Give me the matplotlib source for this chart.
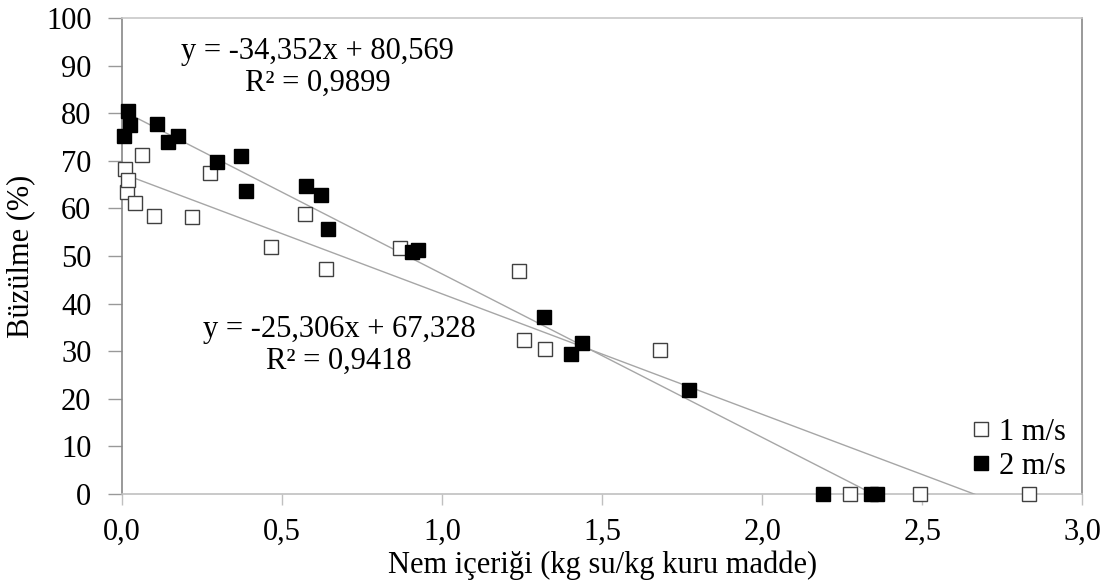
import numpy as np
import matplotlib.pyplot as plt

plt.rcParams['font.family'] = ['Liberation Serif', 'DejaVu Serif']

# 1 m/s  (white squares)
x1 = [0.010, 0.017, 0.020, 0.042, 0.063, 0.100, 0.220, 0.275, 0.466, 0.572,
      0.638, 0.869, 1.241, 1.256, 1.321, 1.681, 2.274, 2.494, 2.835]
y1 = [68.2, 63.4, 66.0, 61.2, 71.2, 58.3, 58.1, 67.4, 51.9, 58.8,
      47.3, 51.7, 46.9, 32.3, 30.5, 30.3, 0.0, 0.0, 0.0]

# 2 m/s  (black squares)
x2 = [0.007, 0.020, 0.025, 0.110, 0.145, 0.176, 0.297, 0.372, 0.388, 0.574,
      0.621, 0.645, 0.905, 0.926, 1.318, 1.402, 1.437, 1.771, 2.190, 2.340, 2.360]
y2 = [75.2, 80.5, 77.5, 77.8, 74.0, 75.1, 69.7, 70.9, 63.7, 64.7,
      62.9, 55.7, 50.8, 51.3, 37.2, 29.3, 31.8, 21.8, 0.0, 0.0, 0.0]

# trendline coefficients as printed on the chart
slope = {'1 m/s': -25.306, '2 m/s': -34.352}
intercept = {'1 m/s': 67.328, '2 m/s': 80.569}
r2 = {'1 m/s': '0,9418', '2 m/s': '0,9899'}

fs = 22

fig = plt.figure(figsize=(11.14, 5.81), dpi=100)
ax = fig.add_axes([0.1095, 0.150, 0.862, 0.819])

# trendlines over the data range
for lab, xs in [('1 m/s', x1), ('2 m/s', x2)]:
    xx = np.linspace(min(xs), max(xs), 200)
    ax.plot(xx, slope[lab] * xx + intercept[lab], color='#a6a6a6', lw=1.0, zorder=3)

ax.plot(x1, y1, 's', ms=10, mfc='white', mec='#404040', mew=1.0,
        label='1 m/s', zorder=4, clip_on=False)
ax.plot(x2, y2, 's', ms=10, mfc='black', mec='black', mew=1.0,
        label='2 m/s', zorder=5, clip_on=False)

ax.set_xlim(0, 3.0)
ax.set_ylim(0, 100)
ax.set_xticks(np.arange(0, 3.01, 0.5))
ax.set_xticklabels([f'{v:.1f}'.replace('.', ',') for v in np.arange(0, 3.01, 0.5)])
ax.set_yticks(range(0, 101, 10))

ax.spines['top'].set_color('#c8c8c8')
ax.spines['bottom'].set_color('#c0c0c0')
ax.spines['left'].set_color('#888888')
ax.spines['right'].set_color('#888888')
for s in ax.spines.values():
    s.set_linewidth(1.2)

ax.tick_params(axis='y', direction='out', length=10, width=1, color='#999999',
               labelsize=fs, pad=12)
ax.tick_params(axis='x', direction='out', length=8, width=1, color='#c0c0c0',
               labelsize=fs, pad=9)

ax.set_xlabel('Nem içeriği (kg su/kg kuru madde)', fontsize=fs, labelpad=3)
ax.set_ylabel('Büzülme (%)', fontsize=fs, labelpad=8)

ax.text(0.204, 0.896, f"y = {slope['2 m/s']:.3f}x + {intercept['2 m/s']:.3f}".replace('.', ',')
        + f"\nR² = {r2['2 m/s']}", transform=ax.transAxes, ha='center', va='center',
        multialignment='center', fontsize=fs, linespacing=1.1)
ax.text(0.226, 0.312, f"y = {slope['1 m/s']:.3f}x + {intercept['1 m/s']:.3f}".replace('.', ',')
        + f"\nR² = {r2['1 m/s']}", transform=ax.transAxes, ha='center', va='center',
        multialignment='center', fontsize=fs, linespacing=1.1)

ax.legend(loc='lower right', bbox_to_anchor=(1.012, -0.03), frameon=False,
          fontsize=fs, handlelength=0.5, handletextpad=0.35, markerscale=1.0,
          labelspacing=0.15)

fig.savefig('out.png', dpi=100)
